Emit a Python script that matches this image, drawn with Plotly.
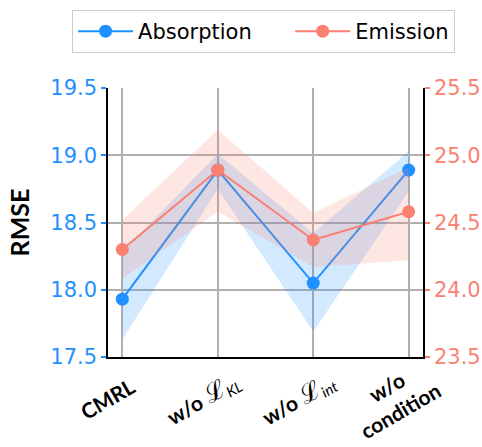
import plotly.graph_objects as go

categories = ["<b>CMRL</b>",
              "<b>w/o</b> <span style='font-size:25px'>ℒ</span><sub><i>KL</i></sub>",
              "<b>w/o</b> <span style='font-size:25px'>ℒ</span><sub><i>int</i></sub>",
              "<b>w/o</b><br><b>condition</b>"]
absorption = [17.93, 18.89, 18.05, 18.89]
absorption_low = [17.63, 18.75, 17.69, 18.73]
absorption_high = [18.28, 19.01, 18.42, 19.03]
emission = [24.30, 24.89, 24.37, 24.58]
emission_low = [24.08, 24.58, 24.17, 24.22]
emission_high = [24.52, 25.19, 24.57, 24.91]
left_ticks = [17.5, 18.0, 18.5, 19.0, 19.5]
right_ticks = [23.5, 24.0, 24.5, 25.0, 25.5]

BLUE = "#1E90FF"
RED = "#FA8072"
x = list(range(len(categories)))

fig = go.Figure()
# bands
fig.add_trace(go.Scatter(x=x + x[::-1], y=emission_high + emission_low[::-1], fill="toself", mode="lines",
                         fillcolor="rgba(250,128,114,0.2)", line=dict(width=0), yaxis="y2",
                         showlegend=False, hoverinfo="skip"))
fig.add_trace(go.Scatter(x=x + x[::-1], y=absorption_high + absorption_low[::-1], fill="toself", mode="lines",
                         fillcolor="rgba(30,144,255,0.2)", line=dict(width=0), yaxis="y",
                         showlegend=False, hoverinfo="skip"))
fig.add_trace(go.Scatter(x=x, y=absorption, mode="lines+markers", name="Absorption\u00a0\u00a0\u00a0\u00a0\u00a0",
                         line=dict(color=BLUE, width=2), marker=dict(size=13, color=BLUE), yaxis="y"))
fig.add_trace(go.Scatter(x=x, y=emission, mode="lines+markers", name="Emission",
                         line=dict(color=RED, width=2), marker=dict(size=13, color=RED), yaxis="y2"))

# category labels (rotated, anchored at their centre) below the axis
for xi, label in zip(x, categories):
    fig.add_annotation(x=xi, y=0, xref="x", yref="paper", text=label, showarrow=False,
                       textangle=-30, xanchor="center", yanchor="middle", align="center",
                       xshift=-15, yshift=-41,
                       font=dict(family="Lato", size=21, color="black"))

fig.update_layout(
    width=482, height=447,
    margin=dict(l=108, r=59, t=88, b=90, autoexpand=False),
    plot_bgcolor="white", paper_bgcolor="white",
    font=dict(family="DejaVu Sans", size=21, color="black"),
    showlegend=True,
    legend=dict(orientation="h", x=-0.114, xanchor="left", y=1.29, yanchor="top",
                bordercolor="#cccccc", borderwidth=1, bgcolor="white",
                font=dict(size=21), itemwidth=55),
    xaxis=dict(range=[-0.15, 3.15], tickmode="array", tickvals=x, showticklabels=False,
               showgrid=True, gridcolor="#b0b0b0", gridwidth=1.5, automargin=False,
               showline=True, linecolor="black", linewidth=1.5, ticks="", zeroline=False),
    yaxis=dict(range=[17.5, 19.5], tickvals=left_ticks, ticktext=[f"{v:.1f}" for v in left_ticks],
               showgrid=True, gridcolor="#b0b0b0", gridwidth=1.5, zeroline=False, automargin=False,
               showline=True, linecolor="black", linewidth=1.5,
               ticks="outside", ticklen=5, tickcolor=BLUE, tickwidth=1.5,
               tickfont=dict(color=BLUE, size=21),
               title=dict(text="RMSE", font=dict(family="Lato", size=25, color="black", weight="bold"), standoff=14)),
    yaxis2=dict(range=[23.5, 25.5], tickvals=right_ticks, ticktext=[f"{v:.1f}" for v in right_ticks],
                overlaying="y", side="right", showgrid=False, zeroline=False, automargin=False,
                showline=True, linecolor="black", linewidth=1.5,
                ticks="outside", ticklen=5, tickcolor=RED, tickwidth=1.5,
                tickfont=dict(color=RED, size=21)),
)

fig.write_html("out.html", config={"displayModeBar": False},
               post_script="document.body.style.margin='0';")
